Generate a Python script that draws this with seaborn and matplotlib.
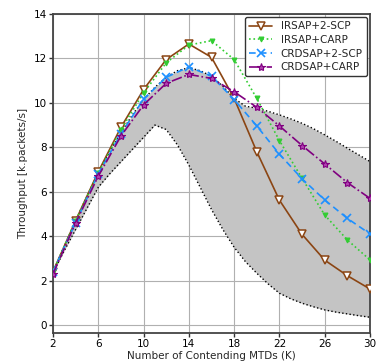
import matplotlib
matplotlib.use("Agg")
import matplotlib.pyplot as plt
import seaborn as sns

# Marker positions (K)
K = [2, 4, 6, 8, 10, 12, 14, 16, 18, 20, 22, 24, 26, 28, 30]
irsap_2scp = [2.4, 4.7, 6.9, 8.9, 10.6, 11.95, 12.65, 12.05, 10.2, 7.8, 5.62, 4.08, 2.92, 2.22, 1.62]
irsap_carp = [2.4, 4.7, 6.85, 8.8, 10.45, 11.8, 12.6, 12.8, 11.95, 10.2, 8.3, 6.6, 4.95, 3.83, 2.93]
crdsap_2scp = [2.4, 4.6, 6.8, 8.6, 10.17, 11.15, 11.62, 11.2, 10.15, 8.96, 7.69, 6.58, 5.63, 4.8, 4.1]
crdsap_carp = [2.3, 4.6, 6.7, 8.51, 9.91, 10.88, 11.28, 11.1, 10.5, 9.8, 8.96, 8.08, 7.25, 6.41, 5.7]

# Shaded band (K step 1)
K_band = list(range(2, 31))
band_upper = [2.4, 3.55, 4.7, 5.8, 6.85, 7.8, 8.65, 9.45, 10.15, 10.7, 11.15, 11.45, 11.58,
              11.45, 11.2, 10.75, 10.2, 9.85, 9.76, 9.62, 9.46, 9.28, 9.08, 8.84, 8.56,
              8.27, 7.96, 7.66, 7.36]
band_lower = [2.35, 3.35, 4.3, 5.25, 6.2, 6.8, 7.35, 7.9, 8.45, 9.0, 8.8, 8.1, 7.2,
              6.2, 5.2, 4.3, 3.5, 2.85, 2.33, 1.85, 1.43, 1.18, 0.98, 0.82, 0.68,
              0.58, 0.5, 0.42, 0.35]

x_ticks = [2, 6, 10, 14, 18, 22, 26, 30]
y_ticks = [0, 2, 4, 6, 8, 10, 12, 14]

sns.set_style("ticks")
plt.rcParams['font.family'] = ['DejaVu Sans']

fig = plt.figure(figsize=(3.77, 3.63), dpi=100)
ax = fig.add_axes([53/377, 1-333/363, (370-53)/377, (333-14)/363])

ax.fill_between(K_band, band_lower, band_upper, color='#c4c4c4', linewidth=0, zorder=1)
sns.lineplot(x=K_band, y=band_upper, ax=ax, color='black', linestyle=':', linewidth=1.0, zorder=2)
sns.lineplot(x=K_band, y=band_lower, ax=ax, color='black', linestyle=':', linewidth=1.0, zorder=2)

series = [
    ("IRSAP+2-SCP", irsap_2scp, '#8B4513', '-', 'v',
     dict(markerfacecolor='white', markeredgecolor='#8B4513', markersize=6, markeredgewidth=1.1)),
    ("IRSAP+CARP", irsap_carp, '#32CD32', ':', 'v',
     dict(markerfacecolor='#32CD32', markeredgecolor='#32CD32', markersize=3.5, markeredgewidth=0.8)),
    ("CRDSAP+2-SCP", crdsap_2scp, '#1E90FF', (0, (4, 2.5)), 'x',
     dict(markeredgecolor='#1E90FF', markersize=5.5, markeredgewidth=1.2)),
    ("CRDSAP+CARP", crdsap_carp, '#800080', '-.', '*',
     dict(markersize=6, markerfacecolor='#b040b0', markeredgecolor='#800080', markeredgewidth=0.8)),
]
for name, vals, col, ls, mk, kw in series:
    sns.lineplot(x=K, y=vals, ax=ax, color=col, linestyle=ls, marker=mk, linewidth=1.2,
                 label=name, zorder=3, **kw)

ax.set_xlim(2, 30)
ax.set_ylim(-0.36, 14)
ax.set_xticks(x_ticks)
ax.set_yticks(y_ticks)
ax.grid(True, color='#b0b0b0', linewidth=0.8)
ax.set_axisbelow(True)
ax.tick_params(labelsize=7.5, length=3, width=1, pad=1.5, colors='#333333', labelcolor='black')
for s in ax.spines.values():
    s.set_color('#444444')
    s.set_linewidth(1.3)
ax.set_xlabel("Number of Contending MTDs (K)", fontsize=7.5, labelpad=1)
ax.set_ylabel("Throughput [k.packets/s]", fontsize=7.5, labelpad=4)

leg = ax.legend(loc='upper right', fontsize=7.5, frameon=True, fancybox=True, framealpha=1,
                handlelength=2.2, borderpad=0.4, labelspacing=0.35, borderaxespad=0.3)
leg.get_frame().set_edgecolor('#333333')
leg.get_frame().set_linewidth(1.0)

fig.savefig("out.png", dpi=100)
